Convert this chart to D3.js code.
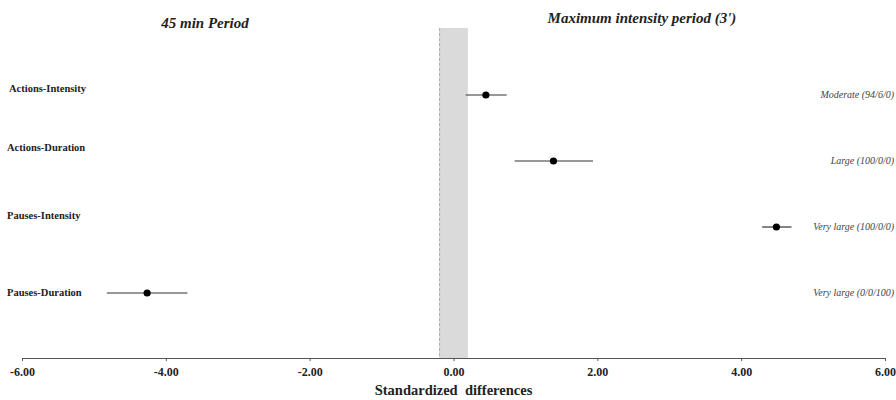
<!DOCTYPE html>
<html>
<head>
<meta charset="utf-8">
<script src="https://cdn.jsdelivr.net/npm/d3@7"></script>
<style>
  body { margin: 0; background: #fff; }
  svg { display: block; }
</style>
</head>
<body>
<div id="vis"></div>
<script>
/* data */
let measures = ["Actions-Intensity", "Actions-Duration", "Pauses-Intensity", "Pauses-Duration"];
let effect   = [0.45, 1.39, 4.49, -4.26];
let ciLow    = [0.17, 0.85, 4.29, -4.82];
let ciHigh   = [0.74, 1.94, 4.70, -3.70];
let verdicts = ["Moderate (94/6/0)", "Large (100/0/0)", "Very large (100/0/0)", "Very large (0/0/100)"];
let xTicks   = [-6, -4, -2, 0, 2, 4, 6];
let trivial  = [-0.2, 0.2];

/* geometry */
let width = 896, height = 400;
let axisY = 358;
let bandTop = 28;
let rowY = [95, 161, 227, 293];
let labelY = [88, 147, 215, 292];

let serif = "'Liberation Serif', 'Times New Roman', serif";

let x = d3.scaleLinear().domain([-6, 6]).range([22, 885]);

let svg = d3.select("#vis").append("svg")
  .attr("width", width)
  .attr("height", height);

/* trivial band around zero */
svg.append("rect")
  .attr("x", x(trivial[0]))
  .attr("y", bandTop)
  .attr("width", x(trivial[1]) - x(trivial[0]))
  .attr("height", axisY - bandTop)
  .attr("fill", "#dadada");
svg.append("line")
  .attr("x1", x(trivial[0]) + 0.5).attr("x2", x(trivial[0]) + 0.5)
  .attr("y1", bandTop).attr("y2", axisY)
  .attr("stroke", "#aaa")
  .attr("stroke-dasharray", "3,2");

/* x axis (hyphen minus, as in the original) */
let axis = d3.axisBottom(x)
  .tickValues(xTicks)
  .tickSize(3)
  .tickPadding(6)
  .tickFormat(d => d.toFixed(2));
let gx = svg.append("g")
  .attr("transform", "translate(0," + axisY + ")")
  .call(axis);
gx.select(".domain").attr("stroke", "#555");
gx.selectAll(".tick line").attr("stroke", "#555");
gx.selectAll(".tick text")
  .attr("font-family", serif)
  .attr("font-weight", "bold")
  .attr("font-size", 12)
  .attr("fill", "#222");

svg.append("text")
  .attr("x", x(0))
  .attr("y", 395)
  .attr("text-anchor", "middle")
  .attr("font-family", serif)
  .attr("font-weight", "bold")
  .attr("font-size", 14.5)
  .attr("fill", "#222")
  .attr("xml:space", "preserve")
  .text("Standardized  differences");

/* titles */
svg.append("text")
  .attr("x", 205).attr("y", 28)
  .attr("text-anchor", "middle")
  .attr("font-family", serif)
  .attr("font-weight", "bold")
  .attr("font-style", "italic")
  .attr("font-size", 15)
  .attr("fill", "#222")
  .text("45 min Period");
svg.append("text")
  .attr("x", 642).attr("y", 23)
  .attr("text-anchor", "middle")
  .attr("font-family", serif)
  .attr("font-weight", "bold")
  .attr("font-style", "italic")
  .attr("font-size", 15)
  .attr("fill", "#222")
  .text("Maximum intensity period (3')");

/* row labels */
svg.append("g").selectAll("text")
  .data(measures)
  .join("text")
    .attr("x", (d, i) => i === 0 ? 9 : 7)
    .attr("y", (d, i) => labelY[i] + 4)
    .attr("font-family", serif)
    .attr("font-weight", "bold")
    .attr("font-size", 10.5)
    .attr("fill", "#222")
    .text(d => d);

/* verdict annotations, right edge */
svg.append("g").selectAll("text")
  .data(verdicts)
  .join("text")
    .attr("x", 894)
    .attr("y", (d, i) => rowY[i] + 3)
    .attr("text-anchor", "end")
    .attr("font-family", serif)
    .attr("font-style", "italic")
    .attr("font-size", 10)
    .attr("fill", "#444")
    .text(d => d);

/* confidence intervals and effect points */
let rows = svg.append("g").selectAll("g")
  .data(d3.range(measures.length))
  .join("g");
rows.append("line")
  .attr("x1", i => x(ciLow[i]))
  .attr("x2", i => x(ciHigh[i]))
  .attr("y1", i => rowY[i])
  .attr("y2", i => rowY[i])
  .attr("stroke", "#333")
  .attr("stroke-width", 1.2);
rows.append("circle")
  .attr("cx", i => x(effect[i]))
  .attr("cy", i => rowY[i])
  .attr("r", 3.6)
  .attr("fill", "#000");
</script>
</body>
</html>
